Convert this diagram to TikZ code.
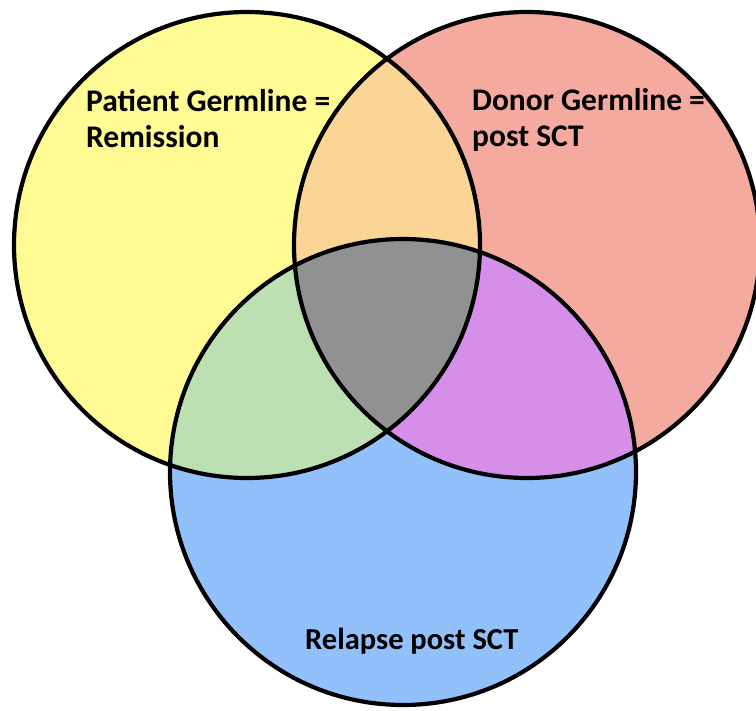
\documentclass[tikz,border=0pt]{standalone}
\usepackage{fontspec}
\setmainfont{Carlito}
\definecolor{cyel}{RGB}{255,251,148}
\definecolor{cred}{RGB}{245,170,160}
\definecolor{cblue}{RGB}{146,192,250}
\definecolor{corange}{RGB}{250,213,150}
\definecolor{cgreen}{RGB}{188,224,178}
\definecolor{cpurple}{RGB}{214,143,232}
\definecolor{cgray}{RGB}{145,145,145}
\begin{document}
\begin{tikzpicture}[x=1pt,y=-1pt,
  ring/.style={draw=black,line width=4.2pt},
  lbl/.style={anchor=base west,inner sep=0pt,font=\fontsize{31.5}{36}\selectfont\bfseries,text=black}]
\useasboundingbox (0,0) rectangle (756,711);
\def\R{233}
\coordinate (cl) at (247,245);
\coordinate (cr) at (527,245);
\coordinate (cb) at (403,472);
% base fills
\fill[cyel] (cl) circle (\R);
\fill[cred] (cr) circle (\R);
\fill[cblue] (cb) circle (\R);
% pairwise intersections
\begin{scope}
  \clip (cl) circle (\R);
  \fill[corange] (cr) circle (\R);
  \fill[cgreen] (cb) circle (\R);
\end{scope}
\begin{scope}
  \clip (cr) circle (\R);
  \fill[cpurple] (cb) circle (\R);
\end{scope}
\begin{scope}
  \clip (cl) circle (\R);
  \clip (cr) circle (\R);
  \fill[cgray] (cb) circle (\R);
\end{scope}
% outlines
\draw[ring] (cl) circle (\R);
\draw[ring] (cr) circle (\R);
\draw[ring] (cb) circle (\R);
% labels
\node[lbl] (pg1) at (86,112) {Patient Germline =};
\node[lbl] (pg2) at (86,148) {Remission};
\node[lbl] (dg1) at (472,111) {Donor Germline =};
\node[lbl] (dg2) at (472,147) {post SCT};
\node[lbl,font=\fontsize{30.5}{36}\selectfont\bfseries] (rp) at (305,649) {Relapse post SCT};
\end{tikzpicture}
\end{document}
